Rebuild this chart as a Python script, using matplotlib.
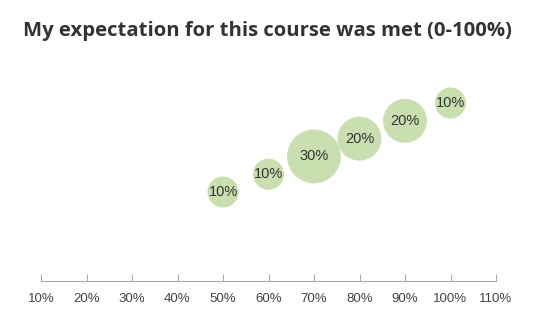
import matplotlib
matplotlib.use("Agg")
import matplotlib.pyplot as plt

# data
x_vals = [50, 60, 70, 80, 90, 100]
y_vals = [50, 60, 70, 80, 90, 100]
shares = [10, 10, 30, 20, 20, 10]
labels = ["10%", "10%", "30%", "20%", "20%", "10%"]
xticks = [10, 20, 30, 40, 50, 60, 70, 80, 90, 100, 110]

fig = plt.figure(figsize=(5.35, 3.28), dpi=100)
ax = fig.add_axes([41 / 535, 47 / 328, 455 / 535, 226 / 328])

ax.scatter(x_vals, y_vals, s=[v * 50 for v in shares], color="#c9dfb0",
           edgecolors="none", zorder=2, clip_on=False)
for x, y, t in zip(x_vals, y_vals, labels):
    ax.text(x, y, t, ha="center", va="center", fontsize=10.5,
            family="Liberation Sans", color="#333333", zorder=3)

ax.set_xlim(10, 110)
ax.set_ylim(0, 127)
ax.set_xticks(xticks)
ax.set_xticklabels([f"{v}%" for v in xticks], family="Liberation Sans",
                   fontsize=9.5, color="#444444")
ax.set_yticks([])
for side in ["top", "right", "left"]:
    ax.spines[side].set_visible(False)
ax.spines["bottom"].set_color("#aaaaaa")
ax.tick_params(axis="x", direction="in", length=5, color="#aaaaaa", pad=9)

fig.text(0.5, 1 - 31 / 328, "My expectation for this course was met (0-100%)",
         ha="center", va="center", fontsize=14.6, fontweight="bold",
         family="Open Sans", color="#333333")

fig.savefig("out.png", dpi=100)
